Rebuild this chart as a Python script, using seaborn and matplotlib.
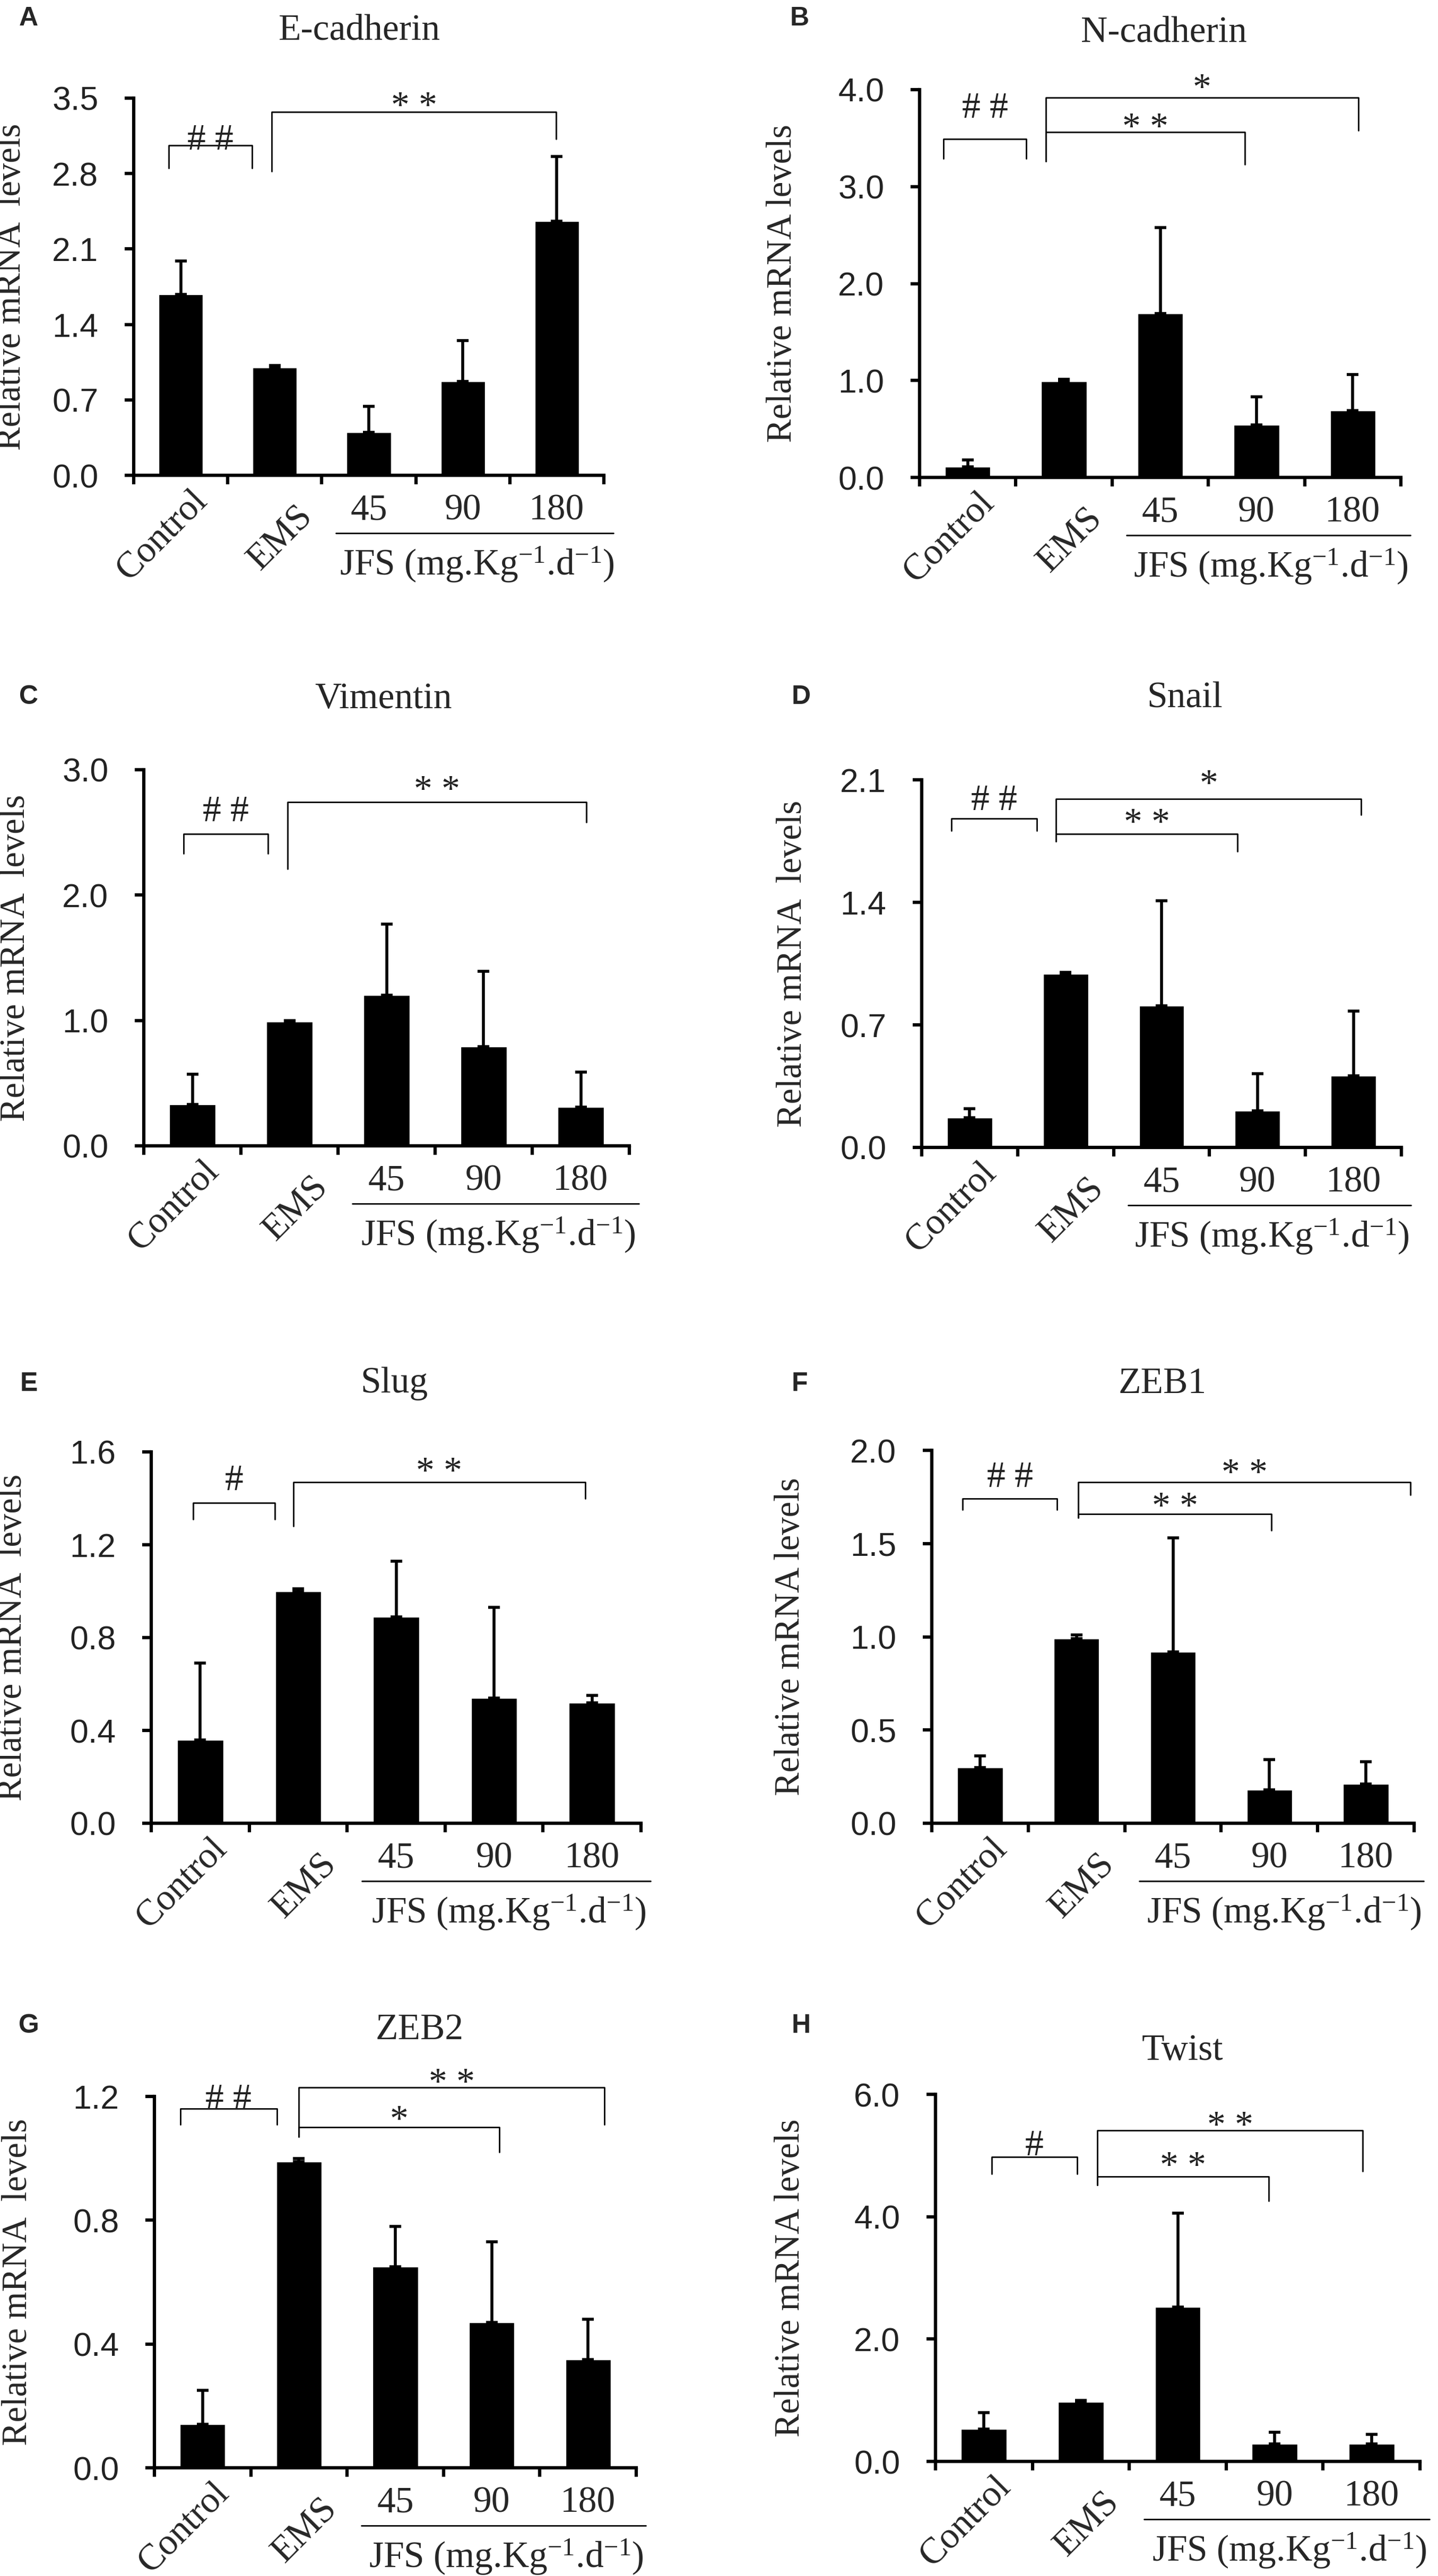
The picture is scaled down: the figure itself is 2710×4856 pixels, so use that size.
import numpy as np
import pandas as pd
import matplotlib
matplotlib.use("Agg")
import matplotlib.pyplot as plt
import seaborn as sns

# -----------------------------
# Data
# -----------------------------
categories = ["Control", "EMS", "45", "90", "180"]
genes = ["E-cadherin", "N-cadherin", "Vimentin", "Snail", "Slug", "ZEB1", "ZEB2", "Twist"]
letters = ["A", "B", "C", "D", "E", "F", "G", "H"]

ecad_mean = [1.68, 1.00, 0.40, 0.87, 2.36]
ecad_err = [0.31, 0.02, 0.24, 0.38, 0.60]
ecad_ticks = [0.0, 0.7, 1.4, 2.1, 2.8, 3.5]

ncad_mean = [0.11, 0.99, 1.69, 0.54, 0.69]
ncad_err = [0.07, 0.02, 0.89, 0.29, 0.37]
ncad_ticks = [0.0, 1.0, 2.0, 3.0, 4.0]

vim_mean = [0.33, 0.99, 1.20, 0.79, 0.31]
vim_err = [0.24, 0.01, 0.57, 0.60, 0.28]
vim_ticks = [0.0, 1.0, 2.0, 3.0]

snail_mean = [0.17, 0.99, 0.81, 0.21, 0.41]
snail_err = [0.05, 0.01, 0.60, 0.21, 0.37]
snail_ticks = [0.0, 0.7, 1.4, 2.1]

slug_mean = [0.36, 1.00, 0.89, 0.54, 0.52]
slug_err = [0.33, 0.01, 0.24, 0.39, 0.03]
slug_ticks = [0.0, 0.4, 0.8, 1.2, 1.6]

zeb1_mean = [0.30, 0.99, 0.92, 0.18, 0.21]
zeb1_err = [0.06, 0.02, 0.61, 0.16, 0.12]
zeb1_ticks = [0.0, 0.5, 1.0, 1.5, 2.0]

zeb2_mean = [0.14, 0.99, 0.65, 0.47, 0.35]
zeb2_err = [0.11, 0.01, 0.13, 0.26, 0.13]
zeb2_ticks = [0.0, 0.4, 0.8, 1.2]

twist_mean = [0.53, 0.97, 2.52, 0.29, 0.29]
twist_err = [0.27, 0.03, 1.54, 0.19, 0.15]
twist_ticks = [0.0, 2.0, 4.0, 6.0]

# significance brackets: label, x left, x right, bar height, left leg end, right leg end, label height
ecad_sig = [("# #", -0.13, 0.76, 3.06, 2.85, 2.85, 3.14),
            ("* *", 0.97, 3.99, 3.37, 2.82, 3.12, 3.50)]
ncad_sig = [("# #", -0.25, 0.61, 3.49, 3.29, 3.29, 3.84),
            ("* *", 0.81, 2.88, 3.56, 3.26, 3.23, 3.69),
            ("*", 0.81, 4.06, 3.92, 3.26, 3.58, 4.10)]
vim_sig = [("# #", -0.09, 0.78, 2.49, 2.33, 2.33, 2.69),
           ("* *", 0.98, 4.06, 2.74, 2.21, 2.58, 2.90)]
snail_sig = [("# #", -0.19, 0.70, 1.88, 1.81, 1.81, 2.00),
             ("* *", 0.90, 2.79, 1.79, 1.75, 1.69, 1.90),
             ("*", 0.90, 4.08, 1.99, 1.75, 1.90, 2.12)]
slug_sig = [("#", -0.07, 0.76, 1.38, 1.31, 1.31, 1.49),
            ("* *", 0.95, 3.93, 1.47, 1.28, 1.40, 1.55)]
zeb1_sig = [("# #", -0.18, 0.80, 1.74, 1.68, 1.68, 1.87),
            ("* *", 1.02, 3.02, 1.66, 1.64, 1.57, 1.74),
            ("* *", 1.02, 4.46, 1.83, 1.64, 1.76, 1.92)]
zeb2_sig = [("# #", -0.23, 0.77, 1.16, 1.11, 1.11, 1.20),
            ("*", 1.00, 3.08, 1.10, 1.07, 1.02, 1.15),
            ("* *", 1.00, 4.17, 1.23, 1.07, 1.11, 1.27)]
twist_sig = [("#", 0.08, 0.96, 4.98, 4.70, 4.70, 5.21),
             ("* *", 1.17, 2.94, 4.66, 4.52, 4.26, 4.96),
             ("* *", 1.17, 3.91, 5.41, 4.52, 4.74, 5.62)]

ylabels = ["Relative mRNA  levels", "Relative mRNA levels", "Relative mRNA  levels",
           "Relative mRNA  levels", "Relative mRNA  levels", "Relative mRNA levels",
           "Relative mRNA  levels", "Relative mRNA levels"]

# -----------------------------
# Layout (pixels)
# -----------------------------
W, H = 2710, 4856
# left, right, top, bottom of each plotting area
boxes = [(252, 1138, 185, 896), (1733, 2640, 169, 900),
         (271, 1186, 1451, 2160), (1737, 2641, 1470, 2163),
         (285, 1208, 2737, 3437), (1756, 2665, 2734, 3437),
         (291, 1199, 3952, 4652), (1763, 2676, 3948, 4640)]
titles_xy = [(677, 58), (2193, 62), (723, 1318), (2233, 1317),
             (743, 2608), (2191, 2609), (791, 3827), (2228, 3866)]
letters_xy = [(54, 35), (1507, 35), (54, 1314), (1510, 1314),
              (54, 2609), (1507, 2609), (54, 3819), (1510, 3819)]
ylabel_x = [52, 1505, 60, 1524, 54, 1520, 64, 1520]

panels = [
    (ecad_mean, ecad_err, ecad_ticks, ecad_sig),
    (ncad_mean, ncad_err, ncad_ticks, ncad_sig),
    (vim_mean, vim_err, vim_ticks, vim_sig),
    (snail_mean, snail_err, snail_ticks, snail_sig),
    (slug_mean, slug_err, slug_ticks, slug_sig),
    (zeb1_mean, zeb1_err, zeb1_ticks, zeb1_sig),
    (zeb2_mean, zeb2_err, zeb2_ticks, zeb2_sig),
    (twist_mean, twist_err, twist_ticks, twist_sig),
]

sns.set_style("ticks")
plt.rcParams["font.family"] = ["Liberation Serif", "DejaVu Serif"]
plt.rcParams["mathtext.fontset"] = "custom"
plt.rcParams["mathtext.rm"] = "Liberation Serif"
plt.rcParams["mathtext.it"] = "Liberation Serif:italic"

FS = 50  # serif text size
fig = plt.figure(figsize=(W / 100, H / 100), dpi=100)
fig.patch.set_facecolor("white")

for k, (means, errs, ticks, sig) in enumerate(panels):
    l, r, t, b = boxes[k]
    ax = fig.add_axes([l / W, 1 - b / H, (r - l) / W, (b - t) / H])
    ax.set_facecolor("white")

    df = pd.DataFrame({"group": categories, "value": means})
    sns.barplot(data=df, x="group", y="value", color="black", saturation=1,
                width=0.47, ax=ax)
    ax.errorbar(np.arange(len(categories)), means,
                yerr=[np.zeros(len(errs)), errs], fmt="none",
                ecolor="black", elinewidth=4, capsize=8, capthick=4, zorder=3)

    ax.set_xlim(-0.5, 4.5)
    ax.set_ylim(0, ticks[-1])
    ax.set_yticks(ticks)
    ax.set_yticklabels([f"{v:.1f}" for v in ticks], fontfamily="Liberation Sans",
                       fontsize=45, color="#222222")
    ax.set_xticks(np.arange(-0.5, 5.0, 1.0))
    ax.set_xticklabels([])
    ax.set_xlabel("")
    sns.despine(ax=ax)
    for side in ["left", "bottom"]:
        ax.spines[side].set_linewidth(4.5)
        ax.spines[side].set_color("black")
    ax.tick_params(axis="both", direction="out", length=12, width=4.5, color="black")
    ax.tick_params(axis="y", pad=36)

    ax.set_ylabel(ylabels[k], fontsize=48)
    ax.yaxis.set_label_coords(ylabel_x[k] / W, 1 - (t + b) / 2 / H,
                              transform=fig.transFigure)

    # group labels under the axis
    trans = ax.get_xaxis_transform()
    ax.annotate("Control", xy=(0.1, 0), xycoords=trans, xytext=(0, -12),
                textcoords="offset points", rotation=45, rotation_mode="anchor",
                ha="right", va="top", fontsize=FS, annotation_clip=False)
    ax.annotate("EMS", xy=(1.22, 0), xycoords=trans, xytext=(0, -33),
                textcoords="offset points", rotation=45, rotation_mode="anchor",
                ha="right", va="top", fontsize=FS, annotation_clip=False)
    for i in range(2, 5):
        ax.annotate(categories[i], xy=(i, 0), xycoords=trans, xytext=(0, -48),
                    textcoords="offset points", ha="center", va="center",
                    fontsize=FS, annotation_clip=False)
    hpx = b - t
    ax.plot([1.65, 4.6], [-109 / hpx, -109 / hpx], transform=trans, color="black",
            lw=2, clip_on=False)
    ax.annotate("JFS (mg.Kg$^{-1}$.d$^{-1}$)", xy=(3.15, 0), xycoords=trans,
                xytext=(0, -121), textcoords="offset points", ha="center",
                va="center", fontsize=FS, annotation_clip=False)

    # significance brackets
    for label, x1, x2, ytop, yl1, yl2, yt in sig:
        ax.plot([x1, x1, x2, x2], [yl1, ytop, ytop, yl2], color="black", lw=2,
                clip_on=False)
        shift = -0.26 * 50 if "*" in label else -0.1 * 50
        ax.annotate(label, xy=((x1 + x2) / 2, yt), xytext=(0, shift),
                    textcoords="offset points", ha="center", va="center",
                    fontsize=50, color="#222222", annotation_clip=False)

    fig.text(titles_xy[k][0] / W, 1 - titles_xy[k][1] / H, genes[k],
             ha="center", va="center", fontsize=FS)
    fig.text(letters_xy[k][0] / W, 1 - letters_xy[k][1] / H, letters[k],
             ha="center", va="center", fontsize=36, fontweight="bold",
             family=["Liberation Sans", "DejaVu Sans"])

fig.savefig("out.png", dpi=100, facecolor="white")
